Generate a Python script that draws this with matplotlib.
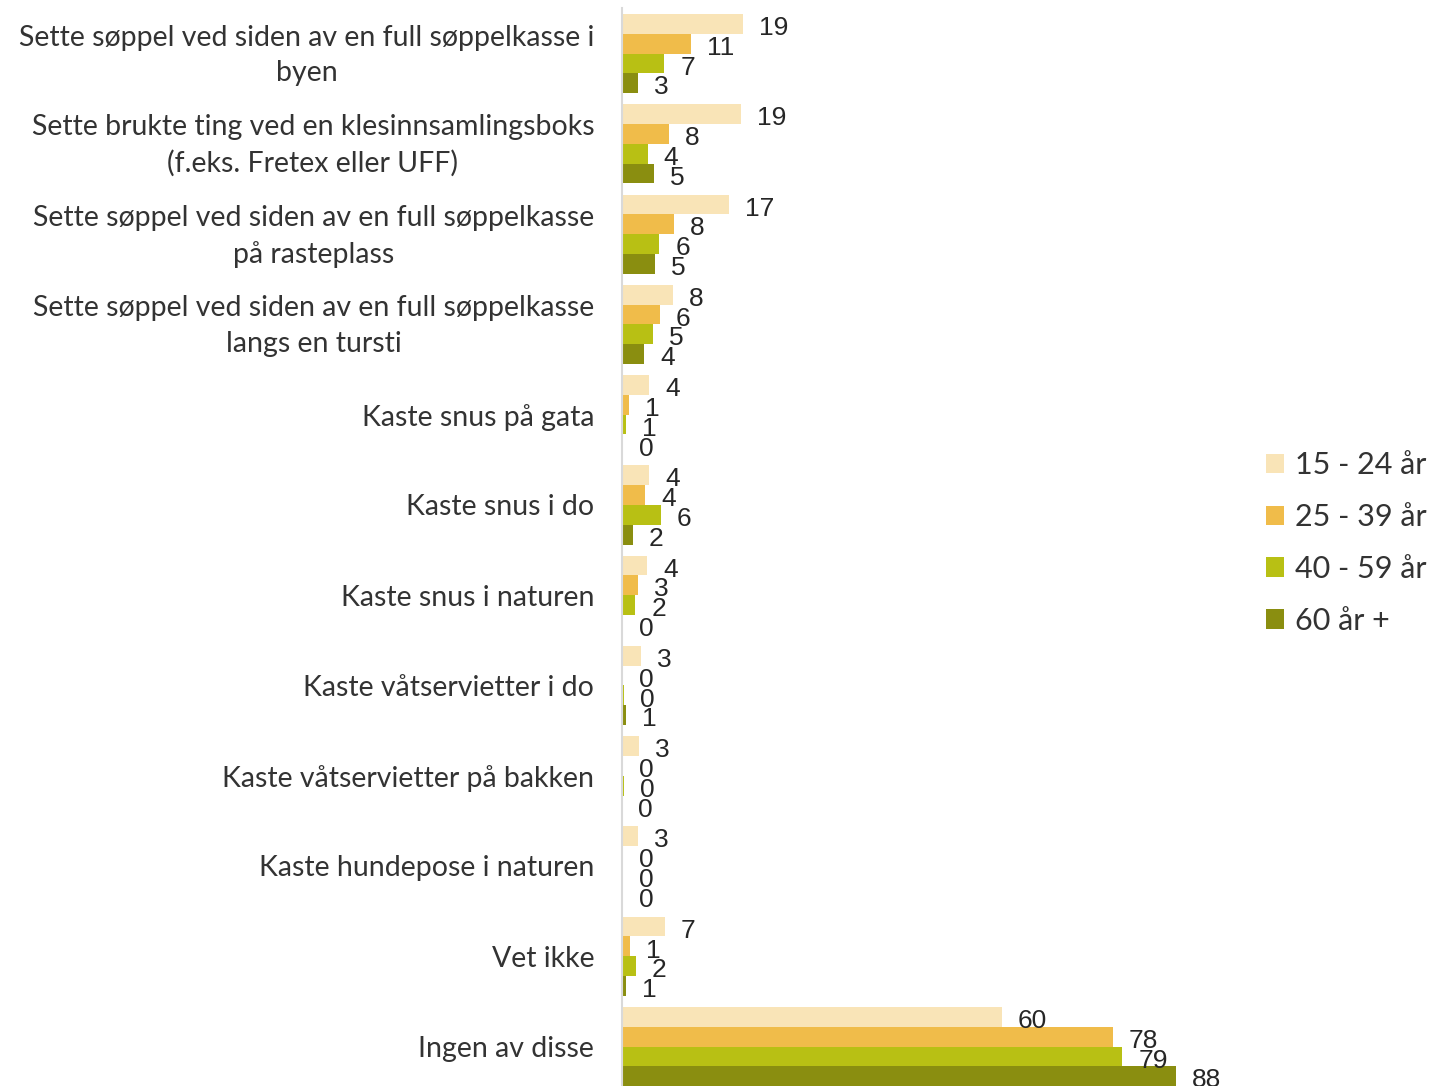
import numpy as np
import matplotlib
matplotlib.use('Agg')
from matplotlib import pyplot as plt
from matplotlib.patches import Patch
from matplotlib.transforms import ScaledTranslation

categories = [
    'Sette søppel ved siden av en full søppelkasse i\nbyen',
    'Sette brukte ting ved en klesinnsamlingsboks\n(f.eks. Fretex eller UFF)',
    'Sette søppel ved siden av en full søppelkasse\npå rasteplass',
    'Sette søppel ved siden av en full søppelkasse\nlangs en tursti',
    'Kaste snus på gata',
    'Kaste snus i do',
    'Kaste snus i naturen',
    'Kaste våtservietter i do',
    'Kaste våtservietter på bakken',
    'Kaste hundepose i naturen',
    'Vet ikke',
    'Ingen av disse',
]
groups = ['15 - 24 år', '25 - 39 år', '40 - 59 år', '60 år +']
age_15_24 = [19.2, 18.9, 17.0, 8.1, 4.3, 4.3, 4.0, 3.0, 2.7, 2.6, 6.8, 60.3]
age_25_39 = [10.9, 7.5, 8.3, 6.0, 1.1, 3.7, 2.6, 0.1, 0.1, 0.1, 1.3, 77.9]
age_40_59 = [6.7, 4.1, 5.9, 4.9, 0.6, 6.2, 2.1, 0.3, 0.3, 0.2, 2.2, 79.4]
age_60 = [2.6, 5.1, 5.2, 3.5, 0.1, 1.7, 0.2, 0.7, 0.0, 0.1, 0.6, 87.9]
series = [age_15_24, age_25_39, age_40_59, age_60]
colors = ['#F9E4B7', '#F0BC4A', '#B8C014', '#8A8E10']

plt.rcParams['font.family'] = ['Lato', 'DejaVu Sans']

fig = plt.figure(figsize=(14.31, 10.86), dpi=100)
ax = fig.add_axes([0.4347, -0.0052, 0.4403, 0.9974])

n = len(categories)
y = np.arange(n)
bar_h = 0.877 / 4
for i, (vals, c) in enumerate(zip(series, colors)):
    pos = y - 0.877 / 2 + bar_h * (i + 0.5)
    ax.barh(pos, vals, height=bar_h, color=c, edgecolor='none')
    for p, v in zip(pos, vals):
        ax.annotate('%d' % round(v), (v, p), xytext=(11.5, -3), textcoords='offset points',
                    va='center', ha='left', fontsize=19, color='#262626',
                    family=['Liberation Sans', 'DejaVu Sans'])

ax.set_ylim(n - 0.5, -0.5)
ax.set_xlim(0, 100)
ax.set_yticks(y)
ax.set_yticklabels(categories, fontsize=20.5, color='#333333', multialignment='center',
                   linespacing=1.45)
ax.tick_params(axis='y', length=0, pad=20)
# two-line labels sit a bit higher in the original
for lbl in ax.get_yticklabels():
    if '\n' in lbl.get_text():
        lbl.set_transform(lbl.get_transform() + ScaledTranslation(0, 0.055, fig.dpi_scale_trans))
ax.set_xticks([])
for s in ['top', 'right', 'bottom']:
    ax.spines[s].set_visible(False)
ax.spines['left'].set_color('#d9d9d9')
ax.spines['left'].set_linewidth(1.5)

handles = [Patch(facecolor=c, edgecolor='none') for c in colors]
fig.legend(handles, groups, loc='center left', bbox_to_anchor=(0.8847, 0.50), frameon=False,
           handlelength=0.6, handleheight=0.6, handletextpad=0.35, borderpad=0,
           borderaxespad=0, labelspacing=0.78, labelcolor='#333333', prop={'size': 22})

fig.savefig('out.png', dpi=100)
